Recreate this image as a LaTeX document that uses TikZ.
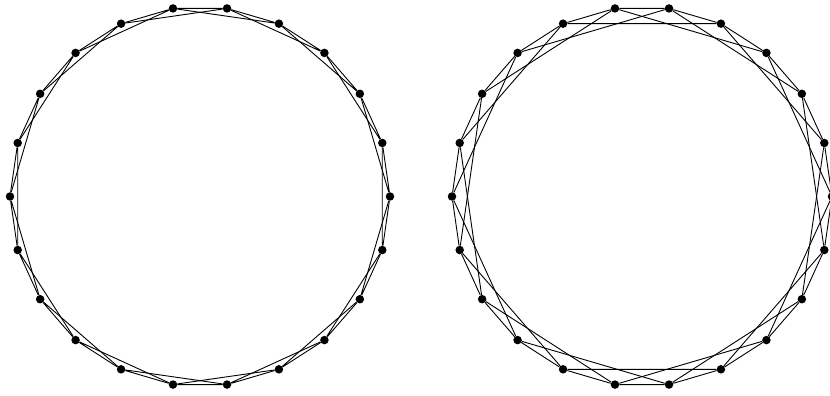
\documentclass[tikz,border=0pt]{standalone}

\begin{document}
\begin{tikzpicture}[x=1pt, y=1pt,
  vtx/.style={circle, fill=black, inner sep=0pt, minimum size=8.5pt},
  edge/.style={black, line width=0.9pt}]
  \useasboundingbox (0,0) rectangle (830,396);
  % left ring: 22 vertices, steps 1 and 2
  \begin{scope}[shift={(200,199.5)}]
    \foreach \i in {0,...,21}
      \node[vtx] (a\i) at (180+\i*360/22:190) {};
  \end{scope}
  \foreach \i in {0,...,21} {
    \pgfmathtruncatemacro\nxt{mod(\i+1,22)}
    \pgfmathtruncatemacro\skp{mod(\i+2,22)}
    \draw[edge] (a\i) -- (a\nxt) (a\i) -- (a\skp);
  }
  % right ring: 22 vertices, steps 1 and 3
  \begin{scope}[shift={(642,199.5)}]
    \foreach \i in {0,...,21}
      \node[vtx] (b\i) at (180+\i*360/22:190) {};
  \end{scope}
  \foreach \i in {0,...,21} {
    \pgfmathtruncatemacro\nxt{mod(\i+1,22)}
    \pgfmathtruncatemacro\skp{mod(\i+3,22)}
    \draw[edge] (b\i) -- (b\nxt) (b\i) -- (b\skp);
  }
\end{tikzpicture}
\end{document}
